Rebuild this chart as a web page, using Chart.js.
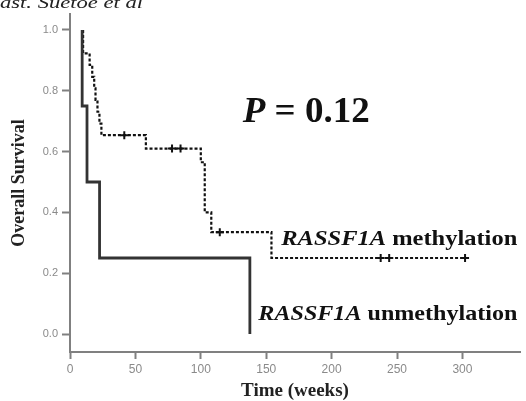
<!DOCTYPE html>
<html>
<head>
<meta charset="utf-8">
<script src="https://cdn.jsdelivr.net/npm/chart.js@4/dist/chart.umd.min.js"></script>
<style>
  html,body{margin:0;padding:0;background:#fff;}
  #wrap{position:relative;width:526px;height:401px;}
</style>
</head>
<body>
<div id="wrap"><canvas id="c" width="526" height="401"></canvas></div>
<script>
// ---- data ----
const xTicks = [0, 50, 100, 150, 200, 250, 300];
const yTicks = [0.0, 0.2, 0.4, 0.6, 0.8, 1.0];

// RASSF1A unmethylation (solid) : step times and survival after step
const unmethTime = [9.3, 9.3, 13, 22.6, 137.5];
const unmethSurv = [1.0, 0.75, 0.5, 0.25, 0.0];

// RASSF1A methylation (dashed)
const methTime = [10, 10, 15, 17, 18.5, 19.5, 21, 22.5, 24, 58, 100, 103, 108, 154, 302];
const methSurv = [1.0, 0.923, 0.885, 0.846, 0.808, 0.77, 0.731, 0.692, 0.654, 0.61, 0.565, 0.40, 0.335, 0.25, 0.25];

// censored observations on the methylation curve
const censorTime = [41.5, 78, 84.5, 114.5, 237.5, 244, 302];
const censorSurv = [0.654, 0.61, 0.61, 0.335, 0.25, 0.25, 0.25];

const pText = 'P';
const pValue = ' = 0.12';
const geneName = 'RASSF1A';
const methLabel = ' methylation';
const unmethLabel = ' unmethylation';
const headerText = 'ast. Suetoe et al';

const toPts = (xs, ys) => xs.map((x, i) => ({x: x, y: ys[i]}));

const SERIF = '"Liberation Serif", "Times New Roman", serif';

function drawFit(ctx, parts, x, y, w) {
  let total = 0;
  parts.forEach(p => { ctx.font = p[0]; total += ctx.measureText(p[1]).width; });
  ctx.save();
  ctx.translate(x, y);
  ctx.scale(w / total, 1);
  let cx = 0;
  ctx.textBaseline = 'alphabetic';
  ctx.textAlign = 'left';
  parts.forEach(p => { ctx.font = p[0]; ctx.fillText(p[1], cx, 0); cx += ctx.measureText(p[1]).width; });
  ctx.restore();
}

const textPlugin = {
  id: 'texts',
  afterDraw(chart) {
    const ctx = chart.ctx;
    const xs = chart.scales.x, ys = chart.scales.y;
    ctx.save();
    ctx.fillStyle = '#111';
    // P value
    drawFit(ctx, [['bold italic 36px ' + SERIF, pText], ['bold 36px ' + SERIF, pValue]],
      xs.getPixelForValue(132), ys.getPixelForValue(0.697), 127);
    // methylation label
    drawFit(ctx, [['bold italic 22px ' + SERIF, geneName], ['bold 22px ' + SERIF, methLabel]],
      xs.getPixelForValue(161.5), ys.getPixelForValue(0.293), 236);
    // unmethylation label
    drawFit(ctx, [['bold italic 22px ' + SERIF, geneName], ['bold 22px ' + SERIF, unmethLabel]],
      xs.getPixelForValue(144), ys.getPixelForValue(0.046), 259);
    // header fragment
    ctx.fillStyle = '#222';
    drawFit(ctx, [['italic 17px ' + SERIF, headerText]], 0, 8, 143);
    ctx.restore();
  }
};

new Chart(document.getElementById('c'), {
  type: 'line',
  data: {
    datasets: [
      {
        label: 'RASSF1A unmethylation',
        data: toPts(unmethTime, unmethSurv),
        stepped: 'before',
        borderColor: '#333333',
        borderWidth: 2.8,
        pointRadius: 0,
        fill: false
      },
      {
        label: 'RASSF1A methylation',
        data: toPts(methTime, methSurv),
        stepped: 'before',
        borderColor: '#111111',
        borderWidth: 2.2,
        borderDash: [3, 2],
        pointRadius: 0,
        fill: false
      },
      {
        label: 'censored',
        data: toPts(censorTime, censorSurv),
        showLine: false,
        pointStyle: 'cross',
        pointRadius: 4,
        pointBorderWidth: 2,
        pointBorderColor: '#111111',
        pointBackgroundColor: '#111111'
      }
    ]
  },
  options: {
    responsive: false,
    animation: false,
    events: [],
    layout: {padding: {top: 14, right: 0, bottom: 0, left: 0}},
    plugins: {legend: {display: false}, tooltip: {enabled: false}},
    scales: {
      x: {
        type: 'linear',
        min: 0,
        max: 344,
        afterBuildTicks: s => { s.ticks = xTicks.map(v => ({value: v})); },
        afterFit: s => { s.height = 49; },
        grid: {display: true, drawOnChartArea: false, drawTicks: true, tickLength: 7, tickWidth: 2, color: '#808080'},
        border: {display: true, color: '#808080', width: 2},
        ticks: {color: '#8a8a8a', font: {family: 'Arial, "Liberation Sans", sans-serif', size: 12}, padding: 3, maxRotation: 0, autoSkip: false},
        title: {display: true, text: 'Time (weeks)', color: '#222', font: {family: SERIF, size: 19, weight: 'bold', lineHeight: 1}, padding: {top: 0, bottom: 0}}
      },
      y: {
        type: 'linear',
        min: -0.0592,
        max: 1.0526,
        afterBuildTicks: s => { s.ticks = yTicks.map(v => ({value: v})); },
        afterFit: s => { s.width = 70; },
        grid: {display: true, drawOnChartArea: false, drawTicks: true, tickLength: 8, tickWidth: 2, color: '#808080'},
        border: {display: true, color: '#808080', width: 2},
        ticks: {color: '#8a8a8a', font: {family: 'Arial, "Liberation Sans", sans-serif', size: 11}, padding: 4, callback: v => Number(v).toFixed(1), autoSkip: false},
        title: {display: true, text: 'Overall Survival', color: '#222', font: {family: SERIF, size: 18, weight: 'bold', lineHeight: 1}, padding: {top: 10, bottom: 0}}
      }
    }
  },
  plugins: [textPlugin]
});
</script>
</body>
</html>
